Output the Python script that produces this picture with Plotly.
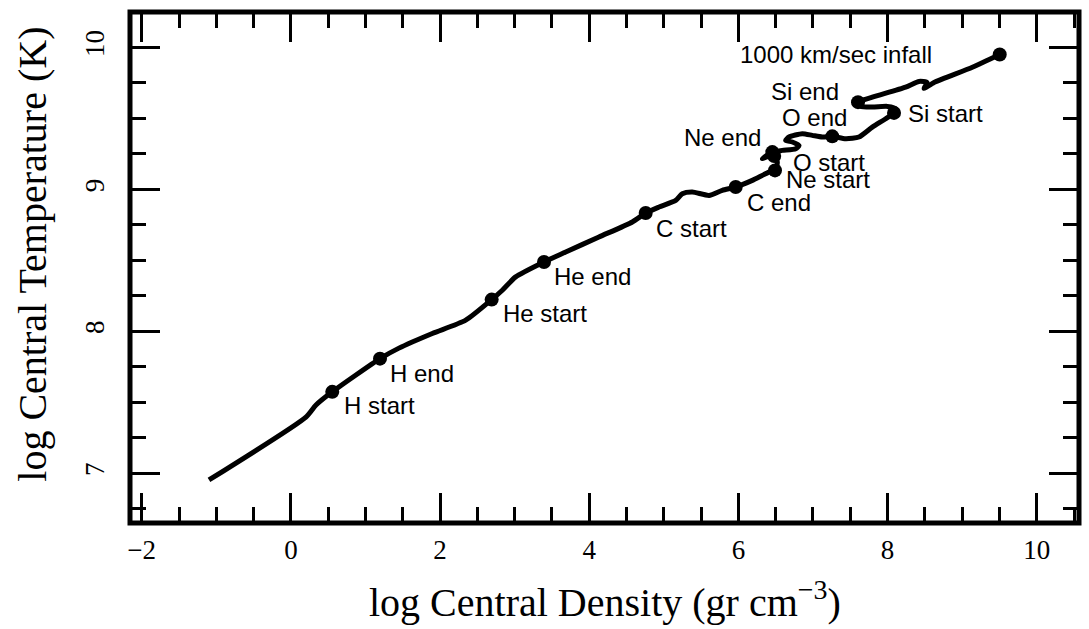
import plotly.graph_objects as go

# Evolutionary track (log rho_c, log T_c)
track_logrho = [-1.098, 0.202, 0.337, 0.555, 1.195, 1.449, 1.896, 2.344, 2.692, 2.835,
                3.014, 3.394, 3.685, 4.131, 4.578, 4.757, 4.936, 5.160, 5.248, 5.382,
                5.606, 5.784, 5.964, 6.187, 6.411, 6.491, 6.522, 6.455, 6.321, 6.455,
                6.589, 6.769, 6.813, 6.723, 6.634, 6.679, 6.857, 6.991, 7.125, 7.259,
                7.439, 7.617, 7.796, 7.975, 8.087, 8.109, 7.997, 7.796, 7.640, 7.604,
                7.796, 8.243, 8.422, 8.529, 8.489, 8.623, 9.137, 9.504]
track_logT = [6.953, 7.396, 7.481, 7.574, 7.808, 7.882, 7.985, 8.079, 8.224, 8.290,
              8.384, 8.489, 8.559, 8.665, 8.771, 8.834, 8.876, 8.923, 8.970, 8.982,
              8.958, 8.994, 9.017, 9.064, 9.122, 9.134, 9.193, 9.240, 9.217, 9.263,
              9.275, 9.287, 9.310, 9.334, 9.346, 9.369, 9.393, 9.381, 9.369, 9.374,
              9.357, 9.369, 9.439, 9.498, 9.539, 9.569, 9.585, 9.580, 9.585, 9.615,
              9.650, 9.721, 9.761, 9.754, 9.712, 9.754, 9.861, 9.951]

# Burning stages
stage_names = ["H start", "H end", "He start", "He end", "C start", "C end",
               "Ne start", "Ne end", "O start", "O end", "Si start", "Si end",
               "1000 km/sec infall"]
stage_logrho = [0.555, 1.195, 2.692, 3.394, 4.757, 5.964,
                6.491, 6.455, 6.480, 7.259, 8.087, 7.604, 9.504]
stage_logT = [7.574, 7.808, 8.224, 8.489, 8.834, 9.017,
              9.134, 9.263, 9.235, 9.374, 9.539, 9.615, 9.951]

x_ticks = [-2, 0, 2, 4, 6, 8, 10]
x_ticktext = ["\u22122", "0", "2", "4", "6", "8", "10"]
y_ticks = [7, 8, 9, 10]

# label placement style: (xanchor, xshift, yshift)
label_style = {
    "H start": ("left", 10, -14),
    "H end": ("left", 8, -15),
    "He start": ("left", 9, -14),
    "He end": ("left", 8, -15),
    "C start": ("left", 8, -16),
    "C end": ("left", 9, -15),
    "Ne start": ("left", 9, -9),
    "Ne end": ("right", -9, 15),
    "O start": ("left", 17, -6),
    "O end": ("right", 17, 19),
    "Si start": ("left", 12, -1),
    "Si end": ("right", -17, 11),
    "1000 km/sec infall": ("right", -66, 0),
}

fig = go.Figure()
fig.add_trace(go.Scatter(x=track_logrho, y=track_logT, mode="lines",
                         line=dict(color="black", width=5, shape="spline", smoothing=0.6),
                         hoverinfo="skip", showlegend=False))
fig.add_trace(go.Scatter(x=stage_logrho, y=stage_logT, mode="markers",
                         marker=dict(color="black", size=14),
                         text=stage_names, showlegend=False))

for name, xv, yv in zip(stage_names, stage_logrho, stage_logT):
    xa, xs, ys = label_style[name]
    fig.add_annotation(x=xv, y=yv, text=name, showarrow=False, xanchor=xa, yanchor="middle",
                       xshift=xs, yshift=ys,
                       font=dict(family="Liberation Sans, Arial", size=24, color="black"))

tickfont = dict(family="Liberation Serif, Times New Roman", size=27, color="black")
fig.update_xaxes(range=[-2.157, 10.567], tickvals=x_ticks, ticktext=x_ticktext,
                 ticks="inside", ticklen=30, tickwidth=2.5, tickcolor="black",
                 minor=dict(dtick=0.5, tick0=0, ticks="inside", ticklen=16, tickwidth=2.5, tickcolor="black"),
                 showline=True, linewidth=1, linecolor="black", mirror="ticks",
                 showgrid=False, zeroline=False, tickfont=tickfont, ticklabelstandoff=3)
fig.update_yaxes(range=[6.65, 10.25], tickvals=y_ticks,
                 ticks="inside", ticklen=30, tickwidth=2.5, tickcolor="black",
                 minor=dict(dtick=0.25, tick0=0, ticks="inside", ticklen=16, tickwidth=2.5, tickcolor="black"),
                 showline=True, linewidth=1, linecolor="black", mirror="ticks",
                 showgrid=False, zeroline=False, tickfont=tickfont, tickangle=-90,
                 ticklabelstandoff=14)

fig.add_shape(type="rect", xref="paper", yref="paper", x0=0, x1=1, y0=0, y1=1,
              line=dict(color="black", width=5), layer="above")

titlefont = dict(family="Liberation Serif, Times New Roman", size=40, color="black")
fig.add_annotation(xref="paper", yref="paper", x=0.5, y=0, yshift=-76, xanchor="center", yanchor="middle",
                   text="log Central Density (gr cm<sup>\u22123</sup>)", showarrow=False, font=titlefont)
fig.add_annotation(xref="paper", yref="paper", x=0, y=0.525, xshift=-97, xanchor="center", yanchor="middle",
                   text="log Central Temperature (K)", textangle=-90, showarrow=False, font=titlefont)

fig.update_layout(width=1089, height=629, margin=dict(l=130, r=10, t=12, b=106),
                  plot_bgcolor="white", paper_bgcolor="white")

fig.write_html("out.html", config={"displayModeBar": False},
               post_script="document.body.style.margin='0';document.body.style.overflow='hidden';")
